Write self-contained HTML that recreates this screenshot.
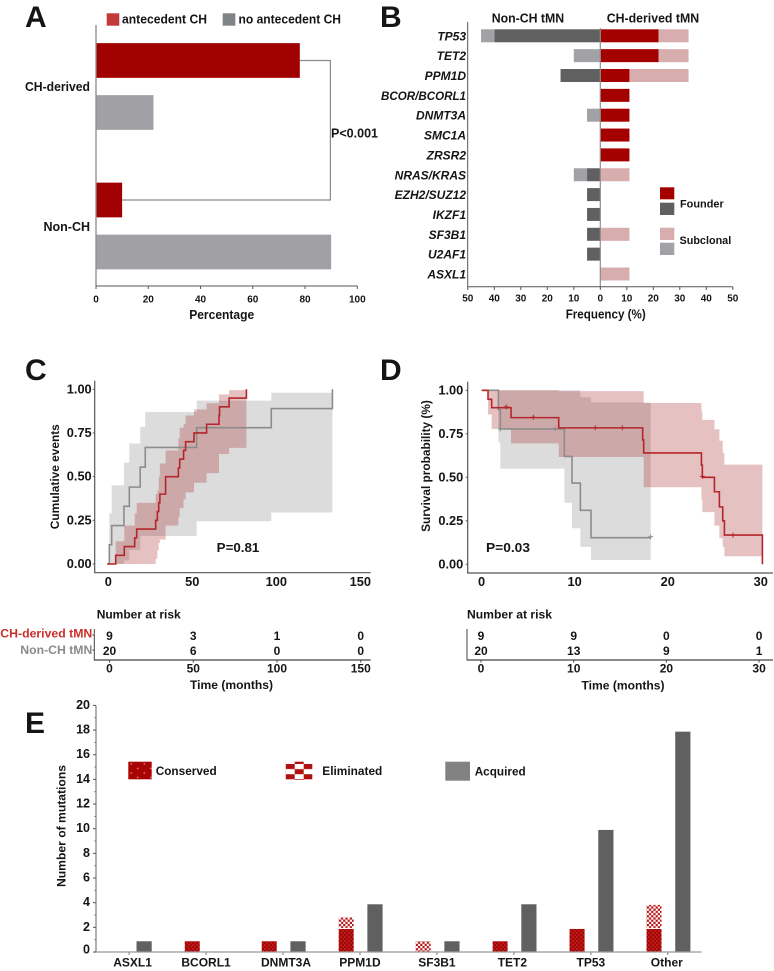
<!DOCTYPE html>
<html lang="en">
<head>
<meta charset="utf-8">
<title>CH-derived tMN figure</title>
<style>
html,body{margin:0;padding:0;background:#fff;}
svg{display:block;}
text{font-family:"Liberation Sans",sans-serif;font-weight:700;fill:#151515;}
</style>
</head>
<body>
<svg id="figure" xmlns="http://www.w3.org/2000/svg" width="774" height="971" viewBox="0 0 774 971">
<defs>
<pattern id="dotsSmall" width="4" height="4" patternUnits="userSpaceOnUse">
<rect width="4" height="4" fill="#a80404"/><circle cx="1" cy="1" r=".55" fill="#e28a8a"/><circle cx="3" cy="3" r=".55" fill="#d96a6a"/>
</pattern>
<pattern id="dotsLarge" width="13" height="9" patternUnits="userSpaceOnUse" x="128.3" y="761.7">
<rect width="13" height="9" fill="#a80404"/><circle cx="3" cy="2.2" r=".8" fill="#e28a8a"/><circle cx="9.5" cy="6.7" r=".8" fill="#e28a8a"/>
</pattern>
<pattern id="checkSmall" width="4.4" height="4.4" patternUnits="userSpaceOnUse">
<rect width="4.4" height="4.4" fill="#fff"/><rect width="2.2" height="2.2" fill="#b81414"/><rect x="2.2" y="2.2" width="2.2" height="2.2" fill="#b81414"/>
</pattern>
<pattern id="checkLarge" width="18" height="10.2" patternUnits="userSpaceOnUse" x="285.7" y="764">
<rect width="18" height="10.2" fill="#fff"/><rect width="9" height="5.1" fill="#b01010"/><rect x="9" y="5.1" width="9" height="5.1" fill="#b01010"/>
</pattern>
</defs>

<g style="font-size:30px">
<text x="25" y="27" font-size="30">A</text>
<text x="380" y="27" font-size="30">B</text>
<text x="25" y="380" font-size="30">C</text>
<text x="380" y="380" font-size="30">D</text>
<text x="25" y="733" font-size="30">E</text>
</g>

<g id="panelA">
<rect x="106.7" y="13.3" width="12.6" height="12.4" fill="#c23a3a"/>
<text x="122" y="23.5" font-size="12.5" textLength="85" lengthAdjust="spacingAndGlyphs">antecedent CH</text>
<rect x="222.7" y="13.3" width="12.6" height="12.4" fill="#7f8487"/>
<text x="238.5" y="23.5" font-size="12.5" textLength="102.5" lengthAdjust="spacingAndGlyphs">no antecedent CH</text>
<text x="90" y="91" font-size="12.5" text-anchor="end" textLength="65" lengthAdjust="spacingAndGlyphs">CH-derived</text>
<text x="90" y="231" font-size="12.5" text-anchor="end">Non-CH</text>
<text x="331" y="137.3" font-size="12.5" textLength="47" lengthAdjust="spacingAndGlyphs">P&lt;0.001</text>
<text x="221.7" y="319" font-size="13" text-anchor="middle" textLength="65" lengthAdjust="spacingAndGlyphs">Percentage</text>
</g>

<g id="panelB">
<text x="491.7" y="22.7" font-size="12.5" textLength="72.5" lengthAdjust="spacingAndGlyphs">Non-CH tMN</text>
<text x="606.7" y="22.7" font-size="12.5" textLength="92.5" lengthAdjust="spacingAndGlyphs">CH-derived tMN</text>
<text x="605.7" y="318.3" font-size="13" text-anchor="middle" textLength="80" lengthAdjust="spacingAndGlyphs">Frequency (%)</text>
<rect x="660" y="187.3" width="14.3" height="12" fill="#a50000"/>
<rect x="660" y="202.7" width="14.3" height="12.3" fill="#606060"/>
<rect x="660" y="227.7" width="14.3" height="12.3" fill="#d8adad"/>
<rect x="660" y="242.7" width="14.3" height="12.3" fill="#a2a2a6"/>
<text x="680" y="207.7" font-size="11" textLength="43.7" lengthAdjust="spacingAndGlyphs">Founder</text>
<text x="679.5" y="244" font-size="11" textLength="51.7" lengthAdjust="spacingAndGlyphs">Subclonal</text>
</g>

<g id="panelC">
<text transform="translate(59,476.7) rotate(-90)" font-size="12" text-anchor="middle" textLength="105" lengthAdjust="spacingAndGlyphs">Cumulative events</text>
</g>
<g id="panelD">
<text transform="translate(430,466) rotate(-90)" font-size="12" text-anchor="middle" textLength="131.7" lengthAdjust="spacingAndGlyphs">Survival probability (%)</text>
</g>
<g id="riskC">
<text x="96.7" y="618.3" font-size="12" textLength="84" lengthAdjust="spacingAndGlyphs">Number at risk</text>
<text x="92.3" y="637.7" font-size="12" text-anchor="end" textLength="92" lengthAdjust="spacingAndGlyphs" style="fill:#c9302c">CH-derived tMN</text>
<text x="92.3" y="654" font-size="12" text-anchor="end" textLength="72" lengthAdjust="spacingAndGlyphs" style="fill:#8a8a8a">Non-CH tMN</text>
<text x="231.5" y="689" font-size="12" text-anchor="middle" textLength="83" lengthAdjust="spacingAndGlyphs">Time (months)</text>
</g>
<g id="riskD">
<text x="467" y="618.3" font-size="12" textLength="85" lengthAdjust="spacingAndGlyphs">Number at risk</text>
<text x="623" y="689.5" font-size="12" text-anchor="middle" textLength="83" lengthAdjust="spacingAndGlyphs">Time (months)</text>
</g>
<g id="panelE">
<text transform="translate(65.7,826) rotate(-90)" font-size="12" text-anchor="middle" textLength="122" lengthAdjust="spacingAndGlyphs">Number of mutations</text>
<rect x="128.3" y="761.7" width="23.4" height="17.6" fill="url(#dotsLarge)"/>
<rect x="285.7" y="761.7" width="26.6" height="18.3" fill="url(#checkLarge)"/>
<rect x="445.3" y="761.7" width="24.7" height="19" fill="#828282"/>
<text x="155.7" y="775" font-size="12" textLength="61" lengthAdjust="spacingAndGlyphs">Conserved</text>
<text x="322.3" y="775" font-size="12" textLength="60" lengthAdjust="spacingAndGlyphs">Eliminated</text>
<text x="474.7" y="775.7" font-size="12" textLength="51" lengthAdjust="spacingAndGlyphs">Acquired</text>
</g>
</svg>

<script>
/* ---------- Panel A data ---------- */
const aCategories = ['CH-derived', 'Non-CH'];
const aAntecedent = [78, 10];
const aNoAntecedent = [22, 90];
const aTicks = [0, 20, 40, 60, 80, 100];

/* ---------- Panel B data ---------- */
const bGenes = ['TP53', 'TET2', 'PPM1D', 'BCOR/BCORL1', 'DNMT3A', 'SMC1A', 'ZRSR2', 'NRAS/KRAS', 'EZH2/SUZ12', 'IKZF1', 'SF3B1', 'U2AF1', 'ASXL1'];
const bNonChFounder = [40, 0, 15, 0, 0, 0, 0, 5, 5, 5, 5, 5, 0];
const bNonChSubclonal = [5, 10, 0, 0, 5, 0, 0, 5, 0, 0, 0, 0, 0];
const bChFounder = [22, 22, 11, 11, 11, 11, 11, 0, 0, 0, 0, 0, 0];
const bChSubclonal = [11.3, 11.3, 22.3, 0, 0, 0, 0, 11, 0, 0, 11, 0, 11];
const bTicks = [-50, -40, -30, -20, -10, 0, 10, 20, 30, 40, 50];

/* ---------- Panel C data ---------- */
const cGrayTimes = [0, 1.2, 2.6, 9.9, 13.1, 19.6, 22.6, 53.2, 97.6, 134];
const cGrayValues = [0, 0.11, 0.22, 0.33, 0.44, 0.555, 0.667, 0.78, 0.89, 1];
const cGrayUpper = [0, 0.29, 0.45, 0.58, 0.69, 0.785, 0.87, 0.935, 0.98, 0.98];
const cGrayLower = [0, 0, 0, 0.02, 0.08, 0.16, 0.16, 0.245, 0.295, 0.295];
const cRedTimes = [0, 5, 10.1, 16.3, 17.5, 28.8, 29.8, 30.6, 31.3, 34.7, 42.3, 43.1, 45.4, 46.6, 51.6, 59.1, 66.5, 66.8, 72.5, 82.8];
const cRedValues = [0, 0.05, 0.1, 0.15, 0.2, 0.25, 0.3, 0.35, 0.4, 0.5, 0.55, 0.6, 0.65, 0.7, 0.75, 0.8, 0.85, 0.9, 0.95, 1];
const cRedUpper = [0, 0.13, 0.22, 0.29, 0.35, 0.4, 0.42, 0.5, 0.575, 0.65, 0.72, 0.78, 0.8, 0.85, 0.885, 0.92, 0.97, 0.97, 0.995, 0.995];
const cRedLower = [0, 0, 0, 0, 0, 0.03, 0.08, 0.12, 0.14, 0.22, 0.27, 0.32, 0.37, 0.41, 0.465, 0.52, 0.63, 0.63, 0.665, 0.665];
const cXTicks = [0, 50, 100, 150];
const survivalYTicks = [0, 0.25, 0.5, 0.75, 1];

/* ---------- Panel D data ---------- */
const dGrayTimes = [0, 1.79, 2, 8.88, 9.7, 10.6, 11.74, 18.15];
const dGrayValues = [1, 0.889, 0.778, 0.62, 0.467, 0.31, 0.153, 0.153];
const dGrayUpper = [1, 1, 1, 1, 1, 0.96, 0.93, 0.93];
const dGrayLower = [1, 0.7, 0.55, 0.354, 0.207, 0.1, 0.025, 0.025];
const dRedTimes = [0, 0.68, 1.07, 3.15, 8.27, 17.29, 17.4, 23.6, 23.7, 25, 25.53, 25.89, 26.07, 30.15];
const dRedValues = [1, 0.948, 0.9, 0.843, 0.784, 0.715, 0.64, 0.57, 0.5, 0.417, 0.33, 0.25, 0.168, 0];
const dRedUpper = [1, 1, 1, 1, 0.995, 0.995, 0.927, 0.878, 0.83, 0.776, 0.71, 0.64, 0.573, 0.573];
const dRedLower = [1, 0.86, 0.778, 0.695, 0.617, 0.617, 0.443, 0.37, 0.3, 0.222, 0.15, 0.1, 0.046, 0.046];
const dRedCensorTimes = [2.64, 5.55, 12.2, 15.1, 23.7, 27];
const dRedCensorValues = [0.905, 0.845, 0.785, 0.785, 0.505, 0.168];
const dGrayCensorTimes = [2, 7.9, 18.15];
const dGrayCensorValues = [0.778, 0.78, 0.158];
const dXTicks = [0, 10, 20, 30];

/* ---------- Risk tables ---------- */
const riskCRed = [9, 3, 1, 0];
const riskCGray = [20, 6, 0, 0];
const riskDRed = [9, 9, 0, 0];
const riskDGray = [20, 13, 9, 1];

/* ---------- Panel E data ---------- */
const eCategories = ['ASXL1', 'BCORL1', 'DNMT3A', 'PPM1D', 'SF3B1', 'TET2', 'TP53', 'Other'];
const eConserved = [0, 0.87, 0.87, 1.87, 0, 0.87, 1.87, 1.87];
const eEliminated = [0, 0, 0, 0.93, 0.87, 0, 0, 1.95];
const eAcquired = [0.87, 0, 0.87, 3.87, 0.87, 3.87, 9.9, 17.87];
const eTicks = [0, 2, 4, 6, 8, 10, 12, 14, 16, 18, 20];
const eMinorTicks = [1, 3, 5, 7, 9, 11, 13, 15, 17, 19];

/* ---------- Helpers ---------- */
const NS = 'http://www.w3.org/2000/svg';
function make(parent, tag, props, name) {
  const el = document.createElementNS(NS, tag);
  for (const k in props) el.setAttribute(k, props[k]);
  
  
  parent.appendChild(el);
  return el;
}
function line(parent, x1, y1, x2, y2, stroke, w, name) {
  return make(parent, 'line', {x1: x1, y1: y1, x2: x2, y2: y2, stroke: stroke, 'stroke-width': w}, name);
}
function rect(parent, x, y, w, h, fill, name) {
  return make(parent, 'rect', {x: x, y: y, width: Math.max(w, 0), height: Math.max(h, 0), fill: fill}, name);
}
function label(parent, x, y, str, size, anchor, name, extra) {
  const el = make(parent, 'text', Object.assign({x: x, y: y, 'font-size': size, 'text-anchor': anchor}, extra || {}), name);
  el.textContent = str;
  return el;
}
function stepPath(times, values, xf, yf) {
  let d = 'M' + xf(times[0]) + ' ' + yf(values[0]);
  for (let i = 1; i < times.length; i++) {
    d += 'H' + xf(times[i]) + 'V' + yf(values[i]);
  }
  return d;
}
function ribbonPath(times, upper, lower, xf, yf) {
  let d = 'M' + xf(times[0]) + ' ' + yf(upper[0]);
  for (let i = 1; i < times.length; i++) {
    d += 'H' + xf(times[i]);
    if (i < times.length - 1) d += 'V' + yf(upper[i]);
  }
  d += 'V' + yf(lower[times.length - 2]);
  for (let i = times.length - 2; i >= 0; i--) {
    d += 'H' + xf(times[i]);
    if (i > 0) d += 'V' + yf(lower[i - 1]);
  }
  return d + 'Z';
}

/* ---------- Panel A ---------- */
const pA = document.getElementById('panelA');
const xA = v => 96 + v * 2.613;
const yA = i => 86.5 + i * 139.5;
aCategories.forEach((c, i) => {
  rect(pA, xA(0), yA(i) - 26 - 17.35, xA(aAntecedent[i]) - xA(0), 34.7, '#a00000', 'bar-antecedent-' + c.toLowerCase());
  rect(pA, xA(0), yA(i) + 26 - 17.35, xA(aNoAntecedent[i]) - xA(0), 34.7, '#a1a1a5', 'bar-no-antecedent-' + c.toLowerCase());
});
make(pA, 'path', {d: 'M' + xA(aAntecedent[0]) + ' ' + (yA(0) - 26) + 'H' + xA(89.7) + 'V' + (yA(1) - 26) + 'H' + xA(aAntecedent[1]), fill: 'none', stroke: '#8a8a8a', 'stroke-width': 1.2}, 'significance-bracket');
line(pA, 96, 25, 96, 286, '#8a8a8a', 1.3, 'y-axis-line-a');
line(pA, 96, 286, xA(100), 286, '#555', 1, 'x-axis-line-a');
aTicks.forEach(t => {
  line(pA, xA(t), 286, xA(t), 289, '#555', 1, 'x-tick-a');
  label(pA, xA(t), 302.7, String(t), 10, 'middle', 'x-tick-label-a');
});

/* ---------- Panel B ---------- */
const pB = document.getElementById('panelB');
const xB = v => 600.3 + v * 2.65;
const yB = i => 35.8 + i * 19.85;
bGenes.forEach((g, i) => {
  const y = yB(i) - 6.5;
  const key = g.toLowerCase().replace('/', '-');
  rect(pB, xB(-bNonChFounder[i]), y, xB(0) - xB(-bNonChFounder[i]), 13, '#606060', 'bar-non-ch-founder-' + key);
  rect(pB, xB(-bNonChFounder[i] - bNonChSubclonal[i]), y, xB(0) - xB(-bNonChSubclonal[i]), 13, '#a2a2a6', 'bar-non-ch-subclonal-' + key);
  rect(pB, xB(0), y, xB(bChFounder[i]) - xB(0), 13, '#a50000', 'bar-ch-founder-' + key);
  rect(pB, xB(bChFounder[i]), y, xB(bChSubclonal[i]) - xB(0), 13, '#d8adad', 'bar-ch-subclonal-' + key);
  const fit = g.length > 10 ? {'font-style': 'italic', textLength: 85, lengthAdjust: 'spacingAndGlyphs'} : {'font-style': 'italic'};
  label(pB, 466, yB(i) + 4.5, g, 12, 'end', 'gene-label', fit);
});
line(pB, 467.7, 22, 467.7, 287, '#555', 1, 'y-axis-line-b');
line(pB, xB(0), 28, xB(0), 287, '#8e8e8e', 1.2, 'center-line-b');
line(pB, 467.7, 286.7, 732.7, 286.7, '#555', 1, 'x-axis-line-b');
bTicks.forEach(t => {
  line(pB, xB(t), 286.7, xB(t), 290, '#555', 1, 'x-tick-b');
  label(pB, xB(t), 301.7, String(Math.abs(t)), 10, 'middle', 'x-tick-label-b');
});

/* ---------- Panel C ---------- */
const pC = document.getElementById('panelC');
const xC = t => 107.3 + t * 1.68;
const yC = v => 564 - v * 174.7;
make(pC, 'path', {d: ribbonPath(cGrayTimes, cGrayUpper, cGrayLower, xC, yC), fill: 'rgb(128,128,128)', 'fill-opacity': 0.28}, 'ci-band-non-ch');
make(pC, 'path', {d: ribbonPath(cRedTimes, cRedUpper, cRedLower, xC, yC), fill: 'rgb(170,40,40)', 'fill-opacity': 0.29}, 'ci-band-ch-derived');
make(pC, 'path', {d: stepPath(cGrayTimes, cGrayValues, xC, yC), fill: 'none', stroke: '#8c8c8c', 'stroke-width': 1.6}, 'curve-non-ch');
make(pC, 'path', {d: stepPath(cRedTimes, cRedValues, xC, yC), fill: 'none', stroke: '#b3262b', 'stroke-width': 1.6}, 'curve-ch-derived');
line(pC, 94.7, 380.7, 94.7, 573, '#555', 1.2, 'y-axis-line-c');
line(pC, 94.2, 572.7, 370.7, 572.7, '#555', 1.2, 'x-axis-line-c');
survivalYTicks.forEach(t => {
  line(pC, 92.7, yC(t), 94.7, yC(t), '#555', 1, 'y-tick-c');
  label(pC, 91.7, yC(t) + 4, t.toFixed(2), 12.8, 'end', 'y-tick-label-c');
});
cXTicks.forEach(t => {
  label(pC, xC(t) + 1, 586, String(t), 12.8, 'middle', 'x-tick-label-c');
});
label(pC, 216.7, 552, 'P=0.81', 13, 'start', 'p-value-c', {textLength: 42.6, lengthAdjust: 'spacingAndGlyphs'});

/* ---------- Panel D ---------- */
const pD = document.getElementById('panelD');
const xD = t => 481.7 + t * 9.31;
const yD = v => 564.3 - v * 174;
make(pD, 'path', {d: ribbonPath(dGrayTimes, dGrayUpper, dGrayLower, xD, yD), fill: 'rgb(128,128,128)', 'fill-opacity': 0.28}, 'ci-band-non-ch');
make(pD, 'path', {d: ribbonPath(dRedTimes, dRedUpper, dRedLower, xD, yD), fill: 'rgb(170,40,40)', 'fill-opacity': 0.29}, 'ci-band-ch-derived');
make(pD, 'path', {d: stepPath(dGrayTimes, dGrayValues, xD, yD), fill: 'none', stroke: '#8c8c8c', 'stroke-width': 1.6}, 'curve-non-ch');
make(pD, 'path', {d: stepPath(dRedTimes, dRedValues, xD, yD), fill: 'none', stroke: '#b3262b', 'stroke-width': 1.6}, 'curve-ch-derived');
function censor(parent, t, v, color, name) {
  const cx = xD(t), cy = yD(v);
  make(parent, 'path', {d: 'M' + (cx - 2.5) + ' ' + cy + 'H' + (cx + 2.5) + 'M' + cx + ' ' + (cy - 2.5) + 'V' + (cy + 2.5), stroke: color, 'stroke-width': 1, fill: 'none'}, name);
}
dGrayCensorTimes.forEach((t, i) => censor(pD, t, dGrayCensorValues[i], '#8c8c8c', 'censor-mark-non-ch'));
dRedCensorTimes.forEach((t, i) => censor(pD, t, dRedCensorValues[i], '#b3262b', 'censor-mark-ch-derived'));
line(pD, 467.7, 381.7, 467.7, 573, '#555', 1.2, 'y-axis-line-d');
line(pD, 467.2, 573, 773, 573, '#555', 1.2, 'x-axis-line-d');
survivalYTicks.forEach(t => {
  line(pD, 465.7, yD(t), 467.7, yD(t), '#555', 1, 'y-tick-d');
  label(pD, 463.3, yD(t) + 4, t.toFixed(2), 12.8, 'end', 'y-tick-label-d');
});
dXTicks.forEach(t => {
  label(pD, xD(t) - 0.2, 586, String(t), 12.8, 'middle', 'x-tick-label-d');
});
label(pD, 486, 552, 'P=0.03', 13, 'start', 'p-value-d', {textLength: 44, lengthAdjust: 'spacingAndGlyphs'});

/* ---------- Risk tables ---------- */
const rC = document.getElementById('riskC');
const xRC = t => 109.5 + t * 1.675;
line(rC, 94.3, 629, 94.3, 660.3, '#444', 1, 'y-axis-line-risk-c');
line(rC, 94, 660, 370.7, 660, '#444', 1.3, 'x-axis-line-risk-c');
cXTicks.forEach((t, i) => {
  label(rC, xRC(t), 640, String(riskCRed[i]), 12, 'middle', 'risk-count-ch-derived');
  label(rC, xRC(t), 655, String(riskCGray[i]), 12, 'middle', 'risk-count-non-ch');
  line(rC, xRC(t), 660, xRC(t), 662.5, '#444', 1, 'x-tick-risk-c');
  label(rC, xRC(t), 672.3, String(t), 12, 'middle', 'x-tick-label-risk-c');
});
line(rC, 92.3, 635, 94.3, 635, '#444', 1, 'y-tick-risk-c');
line(rC, 92.3, 650, 94.3, 650, '#444', 1, 'y-tick-risk-c');

const rD = document.getElementById('riskD');
const xRD = t => 481 + t * 9.27;
line(rD, 467, 629, 467, 660.3, '#444', 1, 'y-axis-line-risk-d');
line(rD, 466.7, 660, 773, 660, '#444', 1.3, 'x-axis-line-risk-d');
dXTicks.forEach((t, i) => {
  label(rD, xRD(t), 640, String(riskDRed[i]), 12, 'middle', 'risk-count-ch-derived');
  label(rD, xRD(t), 655, String(riskDGray[i]), 12, 'middle', 'risk-count-non-ch');
  line(rD, xRD(t), 660, xRD(t), 662.5, '#444', 1, 'x-tick-risk-d');
  label(rD, xRD(t), 672.3, String(t), 12, 'middle', 'x-tick-label-risk-d');
});

/* ---------- Panel E ---------- */
const pE = document.getElementById('panelE');
const xE = i => 129.1 + i * 76.96;
const yE = v => 952 - v * 12.33;
const eLabelNudge = c => (c === 'ASXL1' ? 3.5 : c === 'DNMT3A' ? 3 : c === 'TET2' ? -1.5 : c === 'Other' ? -1 : 0);
eCategories.forEach((c, i) => {
  const key = c.toLowerCase();
  const left = xE(i) - 21.3;
  if (eConserved[i] > 0) {
    rect(pE, left, yE(eConserved[i]), 15, yE(0) - yE(eConserved[i]), 'url(#dotsSmall)', 'bar-conserved-' + key);
  }
  if (eEliminated[i] > 0) {
    rect(pE, left, yE(eConserved[i] + eEliminated[i]), 15, yE(0) - yE(eEliminated[i]) - (eConserved[i] > 0 ? 1 : 0), 'url(#checkSmall)', 'bar-eliminated-' + key);
  }
  if (eAcquired[i] > 0) {
    rect(pE, xE(i) + 7.4, yE(eAcquired[i]), 15.2, yE(0) - yE(eAcquired[i]), '#606060', 'bar-acquired-' + key);
  }
  line(pE, xE(i), 952, xE(i), 955, '#777', 1, 'x-tick-e');
  label(pE, xE(i) + eLabelNudge(c), 966.7, c, 12, 'middle', 'x-tick-label-e');
});
line(pE, 96, 705.5, 96, 952, '#666', 1, 'y-axis-line-e');
line(pE, 94.3, 952, 701.7, 952, '#999', 1.3, 'x-axis-line-e');
eTicks.forEach(t => {
  line(pE, 93, yE(t), 96, yE(t), '#555', 1, 'y-tick-e');
  label(pE, 90, t === 0 ? 953.3 : yE(t) + 3.5, String(t), 12.5, 'end', 'y-tick-label-e');
});
eMinorTicks.forEach(t => {
  line(pE, 94.3, yE(t), 96, yE(t), '#777', 1, 'y-minor-tick-e');
});
</script>
</body>
</html>
